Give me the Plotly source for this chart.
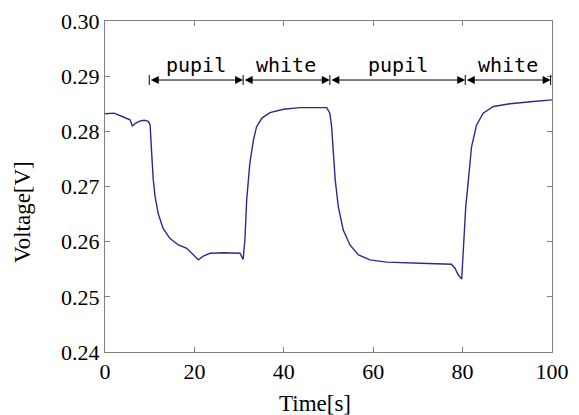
import plotly.graph_objects as go

# time [s] and voltage [V]
time_s = [0, 2, 4.1, 5.6, 6.1, 7.1, 7.9, 8.8, 9.7, 10.1, 10.4, 10.8, 11.2, 11.9, 13.0,
          14.5, 16.4, 18.3, 19.8, 20.9, 22.0, 23.5, 26.5, 30.2, 30.9, 31.3, 31.7, 32.1,
          32.4, 33.2, 33.9, 35.1, 36.9, 39.9, 43.6, 49.6, 50.3, 50.7, 51.5, 52.2, 53.3,
          54.8, 56.7, 59.3, 63.0, 70.5, 77.5, 78.3, 79.0, 79.8, 80.2, 80.7, 81.3, 82.0,
          83.1, 84.6, 86.9, 90.6, 95.8, 100]
voltage = [0.2832, 0.2833, 0.2826, 0.2821, 0.2810, 0.2816, 0.2819, 0.2820, 0.2818, 0.2811,
           0.2766, 0.2712, 0.2682, 0.2651, 0.2624, 0.2606, 0.2594, 0.2588, 0.2576, 0.2567,
           0.2574, 0.2579, 0.2580, 0.2579, 0.2568, 0.2603, 0.2676, 0.2712, 0.2742, 0.2784,
           0.2808, 0.2824, 0.2834, 0.2840, 0.2843, 0.2843, 0.2833, 0.2808, 0.2712, 0.2663,
           0.2621, 0.2594, 0.2576, 0.2567, 0.2563, 0.2561, 0.2559, 0.2552, 0.2540, 0.2532,
           0.2591, 0.2663, 0.2712, 0.2772, 0.2811, 0.2833, 0.2845, 0.2850, 0.2854, 0.2857]

# stimulus phases
bounds = [9.9, 30.9, 50.3, 80.6, 99.7]
phases = ["pupil", "white", "pupil", "white"]
arrow_y = 0.2893
label_y = 0.2921

y_ticks = [0.24, 0.25, 0.26, 0.27, 0.28, 0.29, 0.30]
x_ticks = [0, 20, 40, 60, 80, 100]

# the page body adds an 8px offset, so the figure is 8px smaller
W, H = 571, 407
L, R, T, B = 97, 27, 13, 63

fig = go.Figure()
fig.add_trace(go.Scatter(x=time_s, y=voltage, mode="lines",
                         line=dict(color="#2b2b8c", width=1.4), showlegend=False))

for i, name in enumerate(phases):
    x0, x1 = bounds[i], bounds[i + 1]
    fig.add_annotation(x=x1, y=arrow_y, ax=x0, ay=arrow_y, axref="x", ayref="y",
                       xref="x", yref="y", text="", showarrow=True,
                       arrowhead=2, startarrowhead=2, arrowside="end+start",
                       arrowsize=1.6, arrowwidth=1, arrowcolor="black")
    fig.add_annotation(x=(x0 + x1) / 2, y=label_y, text=name, showarrow=False,
                       font=dict(family="DejaVu Sans Mono", size=20, color="black"))

for b in bounds:
    fig.add_shape(type="line", x0=b, x1=b, y0=arrow_y - 0.0009, y1=arrow_y + 0.0009,
                  xref="x", yref="y", line=dict(color="black", width=1))

# axis titles placed by page pixel (centre of text)
fig.add_annotation(text="Voltage[V]", x=(22 - 8 - L) / (W - L - R),
                   y=(H - B - (212 - 8)) / (H - T - B), xref="paper", yref="paper",
                   xanchor="center", yanchor="middle",
                   showarrow=False, textangle=-90,
                   font=dict(family="Liberation Serif", size=23, color="black"))
fig.add_annotation(text="Time[s]", x=(315 - 8 - L) / (W - L - R),
                   y=(H - B - (403 - 8)) / (H - T - B), xref="paper", yref="paper",
                   xanchor="center", yanchor="middle",
                   showarrow=False,
                   font=dict(family="Liberation Serif", size=23, color="black"))

axis_style = dict(showline=True, linecolor="#808080", linewidth=1, mirror="ticks",
                  ticks="inside", ticklen=5, tickcolor="#808080", showgrid=False,
                  zeroline=False, automargin=False,
                  tickfont=dict(family="Liberation Serif", size=22, color="black"))

fig.update_xaxes(range=[0, 100], tickvals=x_ticks, **axis_style)
fig.update_yaxes(range=[0.24, 0.30], tickvals=y_ticks, tickformat=".2f", **axis_style)

fig.update_layout(width=W, height=H, margin=dict(l=L, r=R, t=T, b=B),
                  plot_bgcolor="white", paper_bgcolor="white")

fig.write_html("out.html")
